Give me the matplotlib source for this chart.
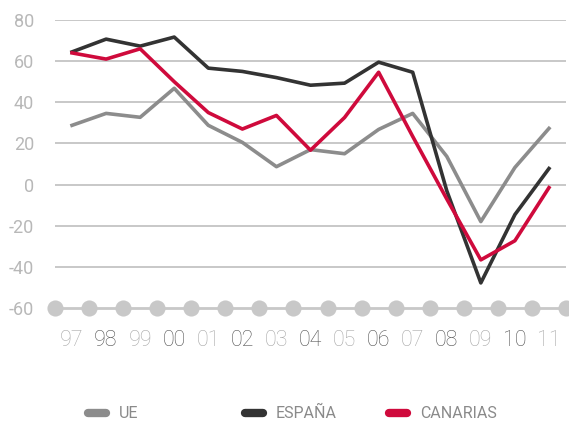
import numpy as np
from matplotlib import pyplot as plt
from matplotlib.lines import Line2D

years = ['97', '98', '99', '00', '01', '02', '03', '04', '05', '06', '07', '08', '09', '10', '11']
ue = [28.8, 34.6, 32.7, 46.8, 28.8, 20.5, 8.7, 17.0, 15.0, 26.8, 34.6, 13.7, -18.0, 8.3, 27.3]
espana = [64.5, 70.7, 67.3, 71.7, 56.6, 55.0, 52.0, 48.3, 49.3, 59.5, 54.6, -3.0, -47.8, -14.6, 7.8]
canarias = [64.0, 61.0, 66.0, 50.0, 35.0, 27.0, 33.6, 16.7, 32.6, 54.6, 23.4, -7.0, -36.6, -27.3, -1.5]

series = [('UE', ue, '#8c8c8c'), ('ESPAÑA', espana, '#333333'), ('CANARIAS', canarias, '#cf0a3c')]

plt.rcParams['font.family'] = ['Roboto', 'DejaVu Sans']

fig = plt.figure(figsize=(5.69, 4.24), dpi=100)
ax = fig.add_axes([55 / 569, 1 - 308 / 424, 511 / 569, 288 / 424])

x = np.arange(len(years))
grid_col = '#c8c8c8'

for v in [80, 60, 40, 20, 0, -20, -40]:
    ax.axhline(v, color=grid_col, lw=1.4, zorder=1)

# baseline with dots between the years
bx = np.arange(-0.5, len(years), 1.0)
ax.plot(bx, [-60] * len(bx), color=grid_col, lw=2, zorder=1, clip_on=False)
ax.scatter(bx, [-60] * len(bx), s=135, color=grid_col, zorder=2, clip_on=False, linewidths=0)

for name, vals, col in series:
    ax.plot(x, vals, color=col, lw=2.6, zorder=3)

ax.set_xlim(-0.5, len(years) - 0.5)
ax.set_ylim(-60, 80)
ax.set_yticks([80, 60, 40, 20, 0, -20, -40, -60])
ax.set_yticklabels(['80', '60', '40', '20', '0', '-20', '-40', '-60'],
                   color='#b8b8b8', fontsize=13)
ax.set_xticks(x)
ax.set_xticklabels(years, fontsize=15.5, fontweight='light')
for i, lab in enumerate(ax.get_xticklabels()):
    lab.set_color('#a8a8a8' if i % 2 == 0 else '#555555')
ax.tick_params(length=0)
ax.tick_params(axis='y', pad=15)
ax.tick_params(axis='x', pad=16)
for s in ax.spines.values():
    s.set_visible(False)

# legend along the bottom
leg_y = 1 - 413 / 424
for (name, vals, col), x0 in zip(series, [88, 245, 389]):
    fig.add_artist(Line2D([x0 / 569, (x0 + 18) / 569], [leg_y, leg_y], color=col,
                          lw=6, solid_capstyle='round'))
    fig.text((x0 + 31) / 569, leg_y, name, color='#8a8a8a', fontsize=11.5,
             va='center', ha='left')

fig.savefig('out.png', dpi=100)
